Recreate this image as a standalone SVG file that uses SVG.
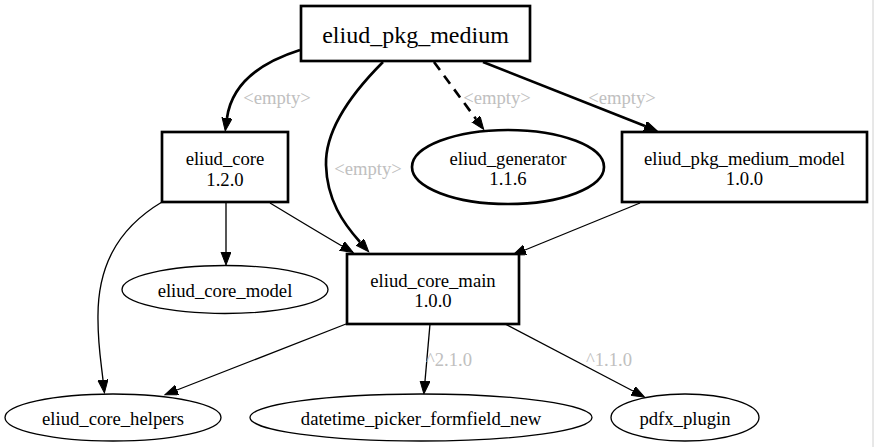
<svg xmlns="http://www.w3.org/2000/svg" width="874" height="447" viewBox="0 0 874 447" font-family="'Liberation Serif', 'Times New Roman', Times, 'DejaVu Serif', serif">
<style>
text{font-family:'Liberation Serif','Times New Roman',Times,'DejaVu Serif',serif;font-size:18.67px;fill:#000;text-anchor:middle}
.title{font-size:24px}
.lbl{fill:#c0c0c0}
.box{fill:#fff;stroke:#000;stroke-width:2.67}
.thin{fill:#fff;stroke:#000;stroke-width:1.33}
.e{fill:none;stroke:#000;stroke-width:1.33}
.eb{fill:none;stroke:#000;stroke-width:2.67}
.dash{stroke-dasharray:10,7}
</style>
<defs>
<marker id="ah" markerUnits="userSpaceOnUse" markerWidth="16" markerHeight="12" refX="0" refY="5" orient="auto" viewBox="0 0 16 12">
<path d="M0,0 L13,5 L0,10 Z" fill="#000" stroke="#000" stroke-width="1"/>
</marker>
</defs>
<rect width="874" height="447" fill="#fff"/>
<line x1="873" y1="0" x2="873" y2="447" stroke="#d0d0d0" stroke-width="1"/>
<g id="connectors">
<path class="eb" d="M300,50 C262,62 232,82 227,118" marker-end="url(#ah)"/>
<text class="lbl" x="277" y="104">&lt;empty&gt;</text>
<path class="eb" d="M383,62 C350,95 325,130 326,165 C327,200 343,223 360,242" marker-end="url(#ah)"/>
<text class="lbl" x="368" y="175">&lt;empty&gt;</text>
<path class="eb dash" d="M434,62 L476,119" marker-end="url(#ah)"/>
<text class="lbl" x="497" y="104">&lt;empty&gt;</text>
<path class="eb" d="M483,62 L645,126" marker-end="url(#ah)"/>
<text class="lbl" x="622" y="104">&lt;empty&gt;</text>
<path class="e" d="M226,202 L226,252" marker-end="url(#ah)"/>
<path class="e" d="M270,203 C295,218 318,232 342,246" marker-end="url(#ah)"/>
<path class="e" d="M162,202 C115,230 97,270 98,320 C98,345 101,362 103,380" marker-end="url(#ah)"/>
<path class="e" d="M640,203 L525,250" marker-end="url(#ah)"/>
<path class="e" d="M346,324 L177,390" marker-end="url(#ah)"/>
<path class="e" d="M430,324 L425,381" marker-end="url(#ah)"/>
<text class="lbl" x="449" y="366">^2.1.0</text>
<path class="e" d="M505,324 L633,391" marker-end="url(#ah)"/>
<text class="lbl" x="609" y="366">^1.1.0</text>
</g>
<g id="eliud_pkg_medium">
<rect class="box" x="301" y="6" width="229" height="55"/>
<text class="title" x="415.5" y="43">eliud_pkg_medium</text>
</g>
<g id="eliud_core">
<rect class="box" x="162" y="132" width="126" height="70"/>
<text x="225" y="165">eliud_core</text>
<text x="225" y="186">1.2.0</text>
</g>
<g id="eliud_generator">
<ellipse class="box" cx="508" cy="167" rx="96" ry="37"/>
<text x="508" y="165">eliud_generator</text>
<text x="508" y="185">1.1.6</text>
</g>
<g id="eliud_pkg_medium_model">
<rect class="box" x="622" y="132" width="245" height="70"/>
<text x="744.5" y="165">eliud_pkg_medium_model</text>
<text x="744.5" y="185">1.0.0</text>
</g>
<g id="eliud_core_model">
<ellipse class="thin" cx="225" cy="289.5" rx="103" ry="24"/>
<text x="225" y="296.5">eliud_core_model</text>
</g>
<g id="eliud_core_main">
<rect class="box" x="347" y="254" width="172" height="70"/>
<text x="433" y="287">eliud_core_main</text>
<text x="433" y="307">1.0.0</text>
</g>
<g id="eliud_core_helpers">
<ellipse class="thin" cx="113" cy="417.5" rx="108" ry="23.5"/>
<text x="113" y="424.5">eliud_core_helpers</text>
</g>
<g id="datetime_picker_formfield_new">
<ellipse class="thin" cx="421" cy="417.5" rx="171" ry="23.5"/>
<text x="421" y="424.5">datetime_picker_formfield_new</text>
</g>
<g id="pdfx_plugin">
<ellipse class="thin" cx="685" cy="417.5" rx="74" ry="23.5"/>
<text x="685" y="424.5">pdfx_plugin</text>
</g>
</svg>
